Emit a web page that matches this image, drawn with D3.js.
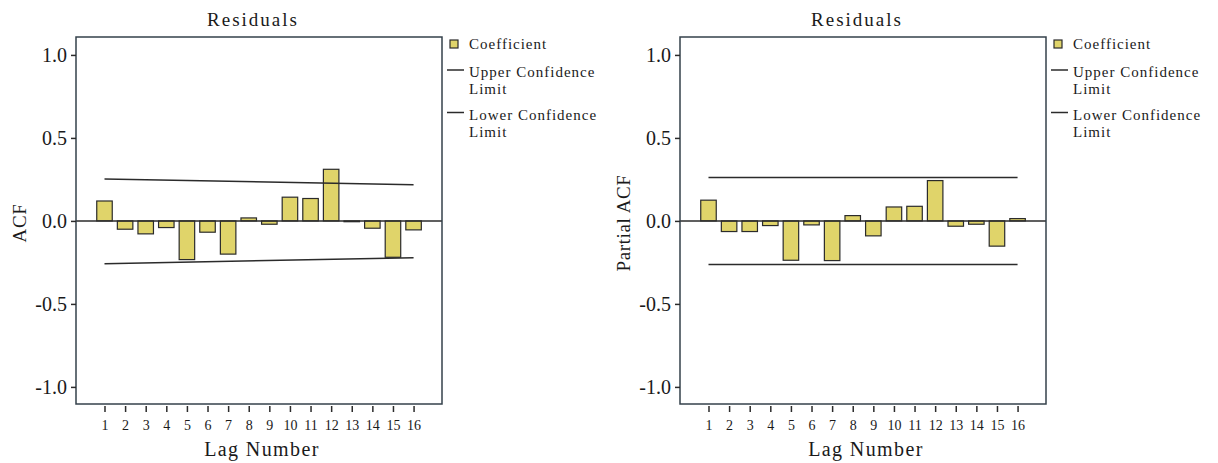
<!DOCTYPE html>
<html>
<head>
<meta charset="utf-8">
<script src="https://cdn.jsdelivr.net/npm/d3@7"></script>
<style>
  body { margin: 0; background: #fff; }
  svg text { font-family: "Liberation Serif", "DejaVu Serif", serif; fill: #1a1a1a; }
</style>
</head>
<body>
<div id="chart-area"></div>
<script>
// data
var lags = [1, 2, 3, 4, 5, 6, 7, 8, 9, 10, 11, 12, 13, 14, 15, 16];
var acfValues = [0.12, -0.05, -0.078, -0.04, -0.233, -0.068, -0.2, 0.018, -0.02, 0.143, 0.135, 0.311, -0.003, -0.044, -0.219, -0.054];
var pacfValues = [0.125, -0.064, -0.064, -0.028, -0.237, -0.024, -0.239, 0.032, -0.09, 0.084, 0.088, 0.243, -0.032, -0.02, -0.152, 0.014];
// confidence limits at first and last lag
var acfUpper = [[1, 0.252], [16, 0.218]];
var acfLower = [[1, -0.258], [16, -0.222]];
var pacfUpper = [[1, 0.262], [16, 0.262]];
var pacfLower = [[1, -0.262], [16, -0.262]];
var yTicks = [1.0, 0.5, 0.0, -0.5, -1.0];
var titles = ["Residuals", "Residuals"];
var yLabels = ["ACF", "Partial ACF"];
var legendLabels = ["Coefficient", "Upper Confidence|Limit", "Lower Confidence|Limit"];

var width = 1218;
var height = 463;
var boxW = 366;
var boxTop = 37, boxBottom = 404;
var barColor = "#e0d46a";
var ink = "#2b2b2b";
var boxColor = "#35414b";

var svg = d3.select("#chart-area").append("svg")
  .attr("width", width)
  .attr("height", height)

var panels = [
  {left: 76, values: acfValues, upper: acfUpper, lower: acfLower, title: titles[0], ylab: yLabels[0]},
  {left: 680, values: pacfValues, upper: pacfUpper, lower: pacfLower, title: titles[1], ylab: yLabels[1]}
]

var y = d3.scaleLinear().domain([1.108, -1.103]).range([boxTop, boxBottom])

panels.forEach(p => {
  var g = svg.append("g").attr("transform", "translate(" + p.left + ",0)")

  var x = d3.scaleLinear().domain([-0.383, 17.38]).range([0, boxW])
  var barW = 15.5

  // title
  g.append("text")
    .attr("x", boxW / 2 - 6)
    .attr("y", 26)
    .attr("text-anchor", "middle")
    .attr("font-size", "19px")
    .attr("letter-spacing", "2px")
    .text(p.title)

  // bars
  g.selectAll("rect.bar").data(lags).enter().append("rect")
    .attr("class", "bar")
    .attr("x", d => x(d) - barW / 2)
    .attr("y", (d, i) => y(Math.max(0, p.values[i])))
    .attr("width", barW)
    .attr("height", (d, i) => Math.max(0.8, Math.abs(y(p.values[i]) - y(0))))
    .attr("fill", barColor)
    .attr("stroke", ink)
    .attr("stroke-width", 1.2)

  // zero line
  g.append("line")
    .attr("x1", 0).attr("x2", boxW)
    .attr("y1", y(0)).attr("y2", y(0))
    .attr("stroke", ink)
    .attr("stroke-width", 1.5)

  // confidence limits
  var line = d3.line().x(d => x(d[0])).y(d => y(d[1]))
  ;[p.upper, p.lower].forEach(lim => {
    g.append("path")
      .attr("d", line(lim))
      .attr("fill", "none")
      .attr("stroke", ink)
      .attr("stroke-width", 1.5)
  })

  // frame
  g.append("rect")
    .attr("x", 0).attr("y", boxTop)
    .attr("width", boxW).attr("height", boxBottom - boxTop)
    .attr("fill", "none")
    .attr("stroke", boxColor)
    .attr("stroke-width", 1.5)

  // y axis
  var yAxis = d3.axisLeft(y).tickValues(yTicks).tickSize(5).tickPadding(4)
    .tickFormat(d => d3.format(".1f")(d).replace("−", "-"))
  var ya = g.append("g").call(yAxis)
  ya.select(".domain").remove()
  ya.selectAll("line").attr("stroke", ink).attr("stroke-width", 1.5)
  ya.selectAll("text")
    .attr("font-size", "20px")
    .attr("font-family", "Liberation Serif, serif")
    .attr("fill", "#1a1a1a")

  // x axis
  var xAxis = d3.axisBottom(x).tickValues(lags).tickSize(6).tickPadding(8)
  var xa = g.append("g").attr("transform", "translate(0," + (boxBottom + 2) + ")").call(xAxis)
  xa.select(".domain").remove()
  xa.selectAll("line").attr("stroke", ink).attr("stroke-width", 1.5)
  xa.selectAll("text")
    .attr("font-size", "14px")
    .attr("font-family", "Liberation Serif, serif")
    .attr("fill", "#1a1a1a")

  // axis labels
  g.append("text")
    .attr("x", 186)
    .attr("y", 456)
    .attr("text-anchor", "middle")
    .attr("font-size", "20px")
    .attr("letter-spacing", "1.4px")
    .text("Lag Number")

  g.append("text")
    .attr("transform", "translate(-57," + 223 + ") rotate(-90)")
    .attr("text-anchor", "middle")
    .attr("dominant-baseline", "central")
    .attr("font-size", "19px")
    .attr("letter-spacing", "0.6px")
    .text(p.ylab)

  // legend
  var lg = g.append("g").attr("transform", "translate(" + (boxW + 8) + ",0)")
  lg.append("rect")
    .attr("x", 0).attr("y", 40)
    .attr("width", 8).attr("height", 8)
    .attr("fill", barColor)
    .attr("stroke", ink)
    .attr("stroke-width", 1.2)
  lg.append("text")
    .attr("x", 19).attr("y", 49)
    .attr("font-size", "15px")
    .attr("letter-spacing", "1px")
    .text(legendLabels[0])

  ;[1, 2].forEach(k => {
    var ly = k == 1 ? 70 : 112.5
    lg.append("line")
      .attr("x1", -3).attr("x2", 14)
      .attr("y1", ly).attr("y2", ly)
      .attr("stroke", ink)
      .attr("stroke-width", 1.5)
    var parts = legendLabels[k].split("|")
    parts.forEach((t, j) => {
      lg.append("text")
        .attr("x", 19).attr("y", ly + 7 + j * 17)
        .attr("font-size", "15px")
        .attr("letter-spacing", "1px")
        .text(t)
    })
  })
})
</script>
</body>
</html>
